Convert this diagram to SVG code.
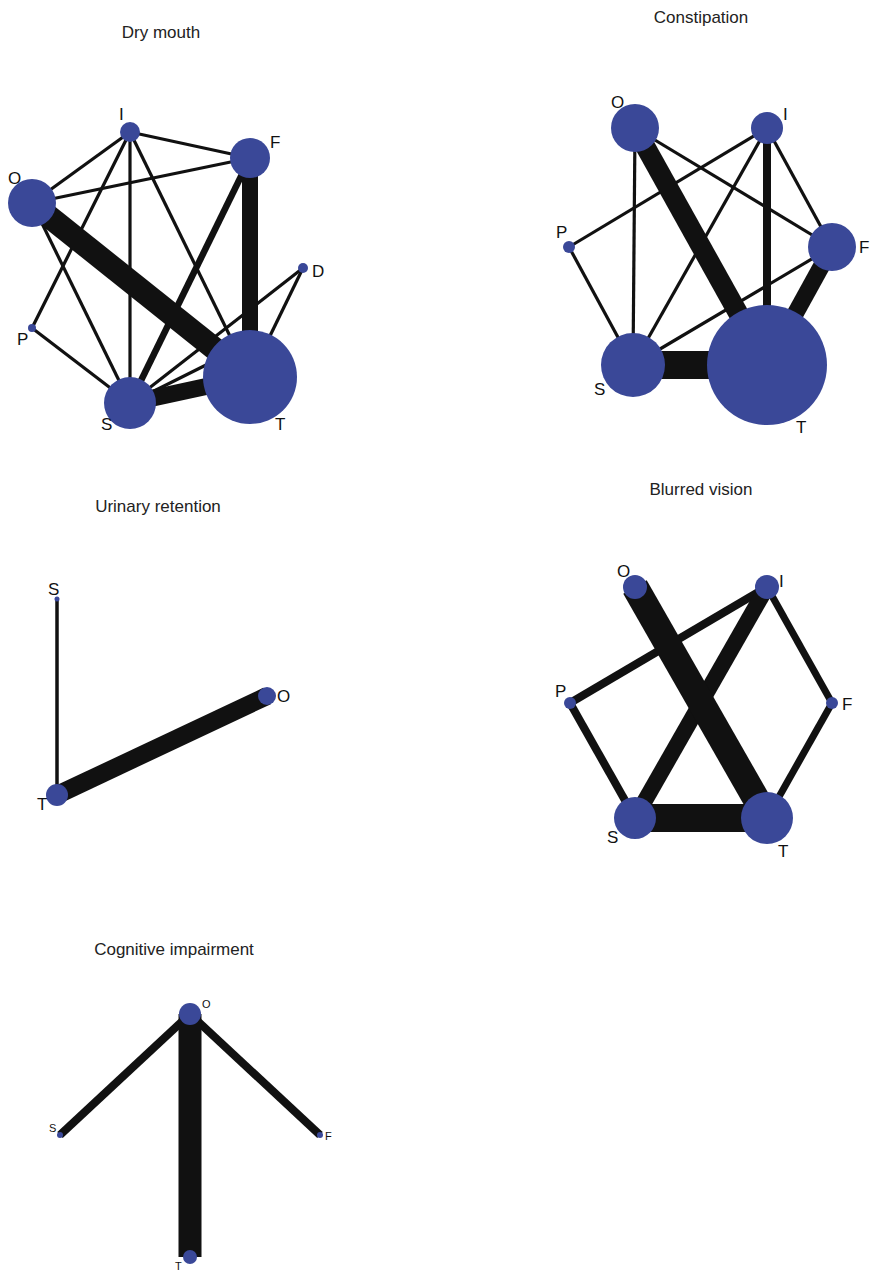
<svg xmlns="http://www.w3.org/2000/svg" width="870" height="1270" viewBox="0 0 870 1270">
<style>
.title{font-family:"Liberation Sans",Arial,sans-serif;font-size:17px;fill:#222;text-anchor:middle}
.lbl{font-family:"Liberation Sans",Arial,sans-serif;font-size:17px;fill:#111}
.sl{font-family:"Liberation Sans",Arial,sans-serif;font-size:11px;fill:#111}
.node{fill:#3a4898}
.e{stroke:#111;stroke-linecap:butt;fill:none}
</style>
<rect width="870" height="1270" fill="#fff"/>
<text class="title" x="161" y="38">Dry mouth</text>
<text class="title" x="701" y="23">Constipation</text>
<text class="title" x="158" y="512">Urinary retention</text>
<text class="title" x="701" y="495">Blurred vision</text>
<text class="title" x="174" y="955">Cognitive impairment</text>

<g id="connectors">
  <g id="dry-edges">
    <line class="e" x1="130" y1="132" x2="32" y2="203" stroke-width="3.2"/>
    <line class="e" x1="130" y1="132" x2="250" y2="158" stroke-width="3.2"/>
    <line class="e" x1="130" y1="132" x2="32" y2="328" stroke-width="3.2"/>
    <line class="e" x1="130" y1="132" x2="130" y2="403" stroke-width="3.2"/>
    <line class="e" x1="130" y1="132" x2="250" y2="377" stroke-width="3.2"/>
    <line class="e" x1="32" y1="203" x2="250" y2="158" stroke-width="3.2"/>
    <line class="e" x1="32" y1="203" x2="130" y2="403" stroke-width="3.2"/>
    <line class="e" x1="32" y1="328" x2="130" y2="403" stroke-width="3.2"/>
    <line class="e" x1="303" y1="268" x2="130" y2="403" stroke-width="3.2"/>
    <line class="e" x1="303" y1="268" x2="250" y2="377" stroke-width="3.2"/>
    <line class="e" x1="130" y1="403" x2="230" y2="353" stroke-width="3.2"/>
    <line class="e" x1="250" y1="158" x2="130" y2="403" stroke-width="6.5"/>
    <line class="e" x1="32" y1="203" x2="250" y2="377" stroke-width="23"/>
    <line class="e" x1="250" y1="158" x2="250" y2="377" stroke-width="16"/>
    <line class="e" x1="130" y1="403" x2="250" y2="377" stroke-width="17"/>
  </g>
  <g id="const-edges">
    <line class="e" x1="635" y1="128" x2="633" y2="365" stroke-width="3.2"/>
    <line class="e" x1="635" y1="128" x2="832" y2="247" stroke-width="3.2"/>
    <line class="e" x1="767" y1="128" x2="569" y2="247" stroke-width="3.2"/>
    <line class="e" x1="767" y1="128" x2="633" y2="365" stroke-width="3.2"/>
    <line class="e" x1="767" y1="128" x2="832" y2="247" stroke-width="3.2"/>
    <line class="e" x1="569" y1="247" x2="633" y2="365" stroke-width="3.2"/>
    <line class="e" x1="633" y1="365" x2="832" y2="247" stroke-width="3.2"/>
    <line class="e" x1="767" y1="128" x2="767" y2="365" stroke-width="8"/>
    <line class="e" x1="635" y1="128" x2="767" y2="365" stroke-width="20"/>
    <line class="e" x1="832" y1="247" x2="767" y2="365" stroke-width="17"/>
    <line class="e" x1="633" y1="365" x2="767" y2="365" stroke-width="28"/>
  </g>
  <g id="uri-edges">
    <line class="e" x1="57" y1="599" x2="57" y2="795" stroke-width="3.5"/>
    <line class="e" x1="57" y1="795" x2="267" y2="696" stroke-width="18"/>
  </g>
  <g id="blur-edges">
    <line class="e" x1="767" y1="587" x2="570" y2="703" stroke-width="8"/>
    <line class="e" x1="570" y1="703" x2="635" y2="818" stroke-width="8"/>
    <line class="e" x1="767" y1="587" x2="832" y2="703" stroke-width="7"/>
    <line class="e" x1="832" y1="703" x2="767" y2="818" stroke-width="7"/>
    <line class="e" x1="767" y1="587" x2="635" y2="818" stroke-width="16"/>
    <line class="e" x1="635" y1="587" x2="767" y2="818" stroke-width="27"/>
    <line class="e" x1="635" y1="818" x2="767" y2="818" stroke-width="28"/>
  </g>
  <g id="cog-edges">
    <line class="e" x1="190" y1="1014" x2="60" y2="1135" stroke-width="8"/>
    <line class="e" x1="190" y1="1014" x2="320" y2="1135" stroke-width="8"/>
    <line class="e" x1="190" y1="1014" x2="190" y2="1257" stroke-width="23"/>
  </g>
</g>

<g id="dry-I"><circle class="node" cx="130" cy="132" r="10"/><text class="lbl" x="119" y="120">I</text></g>
<g id="dry-F"><circle class="node" cx="250" cy="158" r="20"/><text class="lbl" x="270" y="148">F</text></g>
<g id="dry-O"><circle class="node" cx="32" cy="203" r="24"/><text class="lbl" x="8" y="184">O</text></g>
<g id="dry-D"><circle class="node" cx="303" cy="268" r="5"/><text class="lbl" x="312" y="277">D</text></g>
<g id="dry-P"><circle class="node" cx="32" cy="328" r="4"/><text class="lbl" x="17" y="345">P</text></g>
<g id="dry-S"><circle class="node" cx="130" cy="403" r="26"/><text class="lbl" x="101" y="430">S</text></g>
<g id="dry-T"><circle class="node" cx="250" cy="377" r="47"/><text class="lbl" x="275" y="430">T</text></g>

<g id="con-O"><circle class="node" cx="635" cy="128" r="24"/><text class="lbl" x="611" y="108">O</text></g>
<g id="con-I"><circle class="node" cx="767" cy="128" r="16"/><text class="lbl" x="783" y="120">I</text></g>
<g id="con-P"><circle class="node" cx="569" cy="247" r="6"/><text class="lbl" x="556" y="238">P</text></g>
<g id="con-F"><circle class="node" cx="832" cy="247" r="24"/><text class="lbl" x="859" y="253">F</text></g>
<g id="con-S"><circle class="node" cx="633" cy="365" r="32"/><text class="lbl" x="594" y="395">S</text></g>
<g id="con-T"><circle class="node" cx="767" cy="365" r="60"/><text class="lbl" x="796" y="433">T</text></g>

<g id="uri-S"><circle class="node" cx="57" cy="599" r="2.5"/><text class="lbl" x="48" y="595">S</text></g>
<g id="uri-O"><circle class="node" cx="267" cy="696" r="9"/><text class="lbl" x="277" y="702">O</text></g>
<g id="uri-T"><circle class="node" cx="57" cy="795" r="11"/><text class="lbl" x="37" y="810">T</text></g>

<g id="blur-O"><circle class="node" cx="635" cy="587" r="12"/><text class="lbl" x="617" y="577">O</text></g>
<g id="blur-I"><circle class="node" cx="767" cy="587" r="12"/><text class="lbl" x="779" y="587">I</text></g>
<g id="blur-P"><circle class="node" cx="570" cy="703" r="6"/><text class="lbl" x="555" y="697">P</text></g>
<g id="blur-F"><circle class="node" cx="832" cy="703" r="6"/><text class="lbl" x="842" y="710">F</text></g>
<g id="blur-S"><circle class="node" cx="635" cy="818" r="21"/><text class="lbl" x="607" y="843">S</text></g>
<g id="blur-T"><circle class="node" cx="767" cy="818" r="26"/><text class="lbl" x="778" y="857">T</text></g>

<g id="cog-O"><circle class="node" cx="190" cy="1014" r="11"/><text class="sl" x="202" y="1008">O</text></g>
<g id="cog-S"><circle class="node" cx="60" cy="1135" r="3"/><text class="sl" x="49" y="1132">S</text></g>
<g id="cog-F"><circle class="node" cx="320" cy="1135" r="3"/><text class="sl" x="325" y="1140">F</text></g>
<g id="cog-T"><circle class="node" cx="190" cy="1257" r="7"/><text class="sl" x="175" y="1270">T</text></g>
</svg>
